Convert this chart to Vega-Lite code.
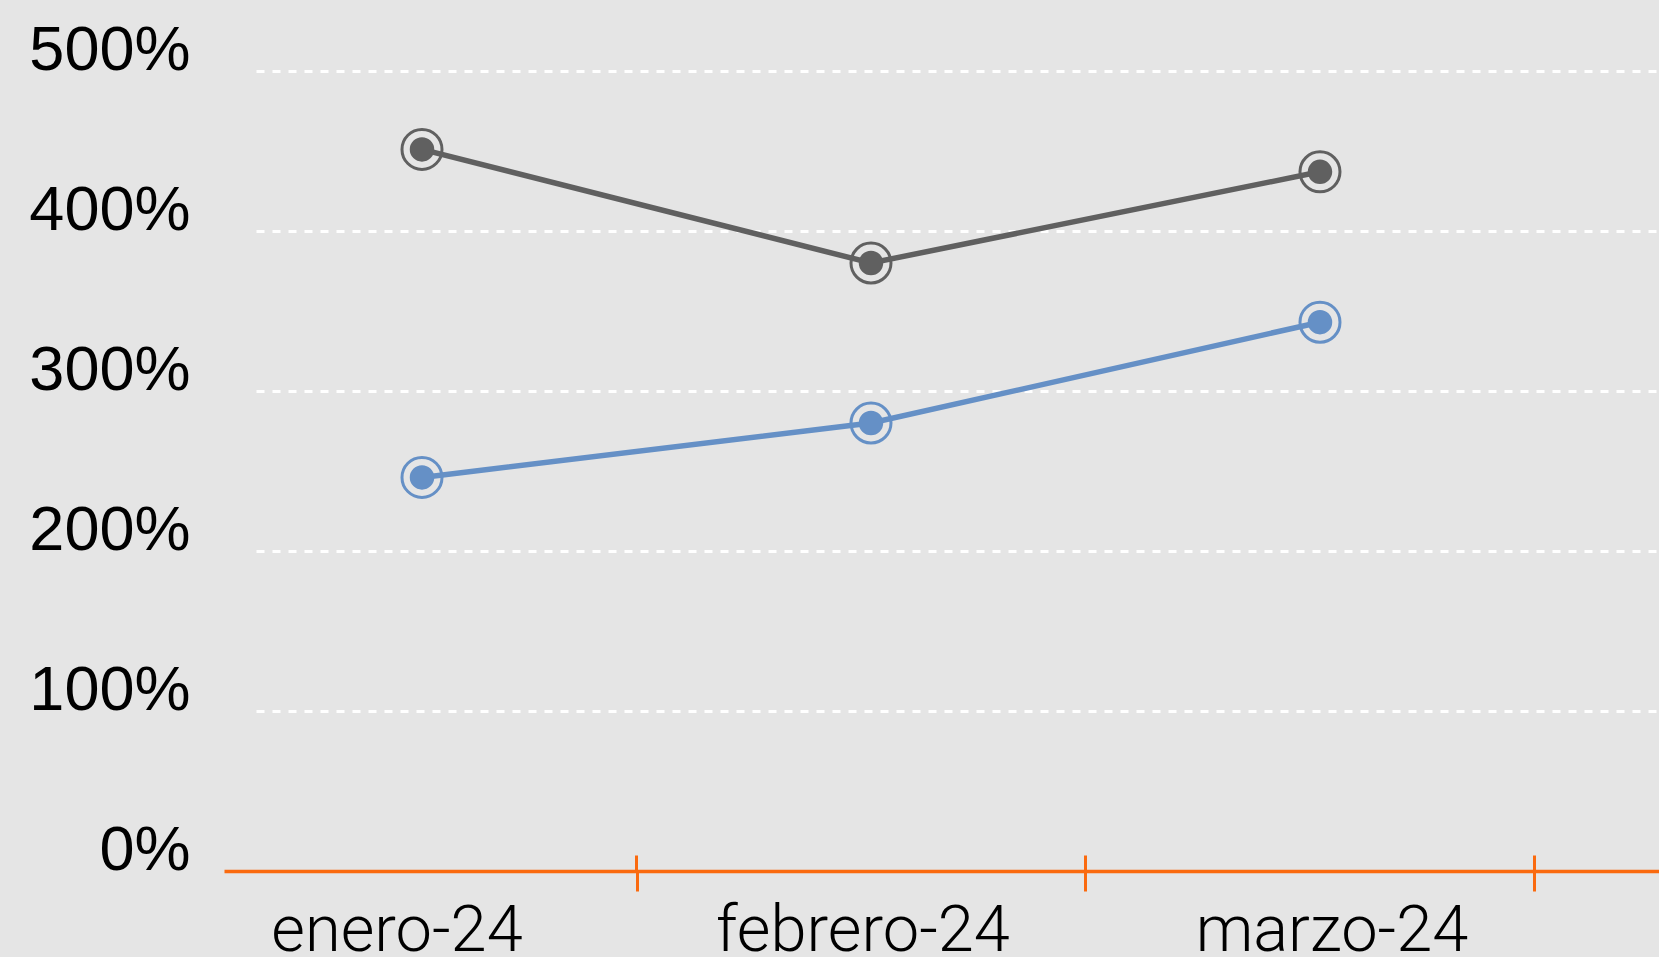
{
  "$schema": "https://vega.github.io/schema/vega-lite/v6.json",
  "width": 1403,
  "height": 800,
  "autosize": {"type": "none"},
  "padding": {"left": 256, "top": 71, "right": 0, "bottom": 86},
  "background": "#e5e5e5",
  "config": {"view": {"stroke": null}, "font": "Liberation Sans"},
  "data": {
    "values": [
      {"mes": "enero-24", "serie": "Serie 1", "valor": 4.51},
      {"mes": "febrero-24", "serie": "Serie 1", "valor": 3.80},
      {"mes": "marzo-24", "serie": "Serie 1", "valor": 4.37},
      {"mes": "enero-24", "serie": "Serie 2", "valor": 2.46},
      {"mes": "febrero-24", "serie": "Serie 2", "valor": 2.80},
      {"mes": "marzo-24", "serie": "Serie 2", "valor": 3.43}
    ]
  },
  "encoding": {
    "y": {
      "field": "valor",
      "type": "quantitative",
      "scale": {"domain": [0, 5], "nice": false, "zero": true},
      "axis": {
        "title": null,
        "values": [0, 1, 2, 3, 4, 5],
        "format": ".0%",
        "domain": false,
        "ticks": false,
        "tickSize": 0,
        "labelPadding": 66,
        "labelFont": "Liberation Sans",
        "labelFontSize": 63,
        "labelColor": "#000000",
        "labelBaseline": "alphabetic",
        "labelOffset": -2,
        "labelFlush": false,
        "labelOverlap": false,
        "labelBound": false,
        "grid": true,
        "gridColor": "#ffffff",
        "gridDash": [8, 8],
        "gridWidth": 3,
        "gridOpacity": {"condition": {"test": "datum.value === 0", "value": 0}, "value": 1}
      }
    },
    "color": {
      "field": "serie",
      "type": "nominal",
      "scale": {"domain": ["Serie 1", "Serie 2"], "range": ["#606060", "#6590c6"]},
      "legend": null
    }
  },
  "layer": [
    {
      "mark": {"type": "line", "strokeWidth": 5.5},
      "encoding": {
        "x": {
          "field": "mes",
          "type": "ordinal",
          "sort": ["enero-24", "febrero-24", "marzo-24"],
          "scale": {"type": "point", "padding": 0.5624, "align": 0.3287},
          "axis": {
            "orient": "bottom",
            "title": null,
            "domain": false,
            "ticks": true,
            "tickColor": "#fa6a0f",
            "tickWidth": 3,
            "tickSize": 20,
            "tickOffset": 214.5,
            "labelOffset": {
              "condition": [
                {"test": "datum.value === 'enero-24'", "value": -240},
                {"test": "datum.value === 'marzo-24'", "value": -203}
              ],
              "value": -223
            },
            "labelPadding": 8,
            "labelFont": "Roboto",
            "labelFontWeight": 300,
            "labelFontSize": 65,
            "labelColor": "#000000",
            "labelAngle": 0,
            "labelAlign": "center",
            "labelBaseline": "top",
            "labelLimit": 0,
            "labelOverlap": false,
            "labelBound": false,
            "labelFlush": false,
            "grid": false
          }
        }
      }
    },
    {
      "mark": {"type": "point", "filled": true, "size": 600, "opacity": 1},
      "encoding": {
        "x": {
          "field": "mes",
          "type": "ordinal",
          "sort": ["enero-24", "febrero-24", "marzo-24"],
          "scale": {"type": "point", "padding": 0.5624, "align": 0.3287},
          "axis": null
        }
      }
    },
    {
      "mark": {"type": "point", "filled": false, "size": 1600, "strokeWidth": 3, "opacity": 1},
      "encoding": {
        "x": {
          "field": "mes",
          "type": "ordinal",
          "sort": ["enero-24", "febrero-24", "marzo-24"],
          "scale": {"type": "point", "range": [-32, 1403], "padding": 0.598, "align": 0.3687},
          "axis": {
            "orient": "bottom",
            "title": null,
            "domain": true,
            "domainColor": "#fa6a0f",
            "domainWidth": 3.5,
            "labels": false,
            "ticks": true,
            "tickColor": "#fa6a0f",
            "tickWidth": 3,
            "tickSize": -16,
            "tickOffset": 214.5,
            "grid": false
          }
        }
      }
    }
  ],
  "resolve": {"scale": {"x": "independent"}, "axis": {"x": "independent"}}
}
